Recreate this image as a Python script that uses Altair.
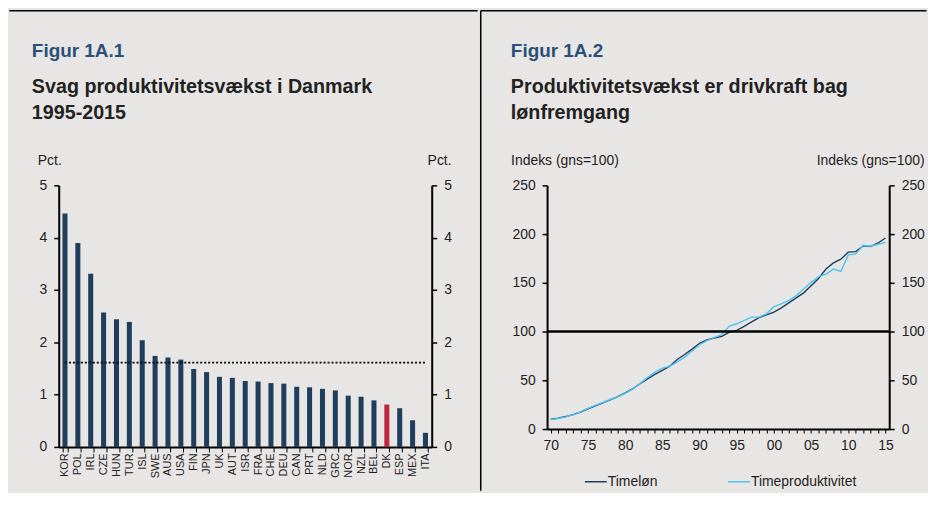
import altair as alt
import pandas as pd

# ---------------- data: figure 1A.1 ----------------
countries = ["KOR", "POL", "IRL", "CZE", "HUN", "TUR", "ISL", "SWE", "AUS", "USA",
             "FIN", "JPN", "UK", "AUT", "ISR", "FRA", "CHE", "DEU", "CAN", "PRT",
             "NLD", "GRC", "NOR", "NZL", "BEL", "DK", "ESP", "MEX", "ITA"]
growth = [4.46, 3.90, 3.31, 2.57, 2.44, 2.39, 2.04, 1.74, 1.71, 1.67,
          1.49, 1.43, 1.34, 1.32, 1.26, 1.25, 1.22, 1.21, 1.15, 1.14,
          1.11, 1.08, 0.98, 0.96, 0.89, 0.81, 0.74, 0.51, 0.27]
oecd_avg = 1.61
title1 = "Figur 1A.1"
subtitle1 = ["Svag produktivitetsvækst i Danmark", "1995-2015"]

# ---------------- data: figure 1A.2 ----------------
years = list(range(1970, 2016))
timeloen = [10.0, 11.2, 12.8, 14.8, 17.3, 20.8, 23.8, 26.8, 30.0, 33.3,
            37.0, 41.3, 46.5, 51.5, 56.0, 60.2, 64.5, 71.3, 76.5, 82.0,
            88.0, 91.5, 93.4, 95.1, 99.5, 101.2, 105.3, 110.0, 114.2, 117.2,
            119.9, 124.3, 129.4, 134.5, 139.7, 147.1, 154.5, 164.1, 170.5, 174.3,
            181.5, 182.0, 187.9, 187.2, 190.9, 196.0]
timeprod = [9.6, 10.8, 12.5, 14.8, 17.6, 21.2, 24.3, 27.2, 30.3, 33.2,
            36.5, 41.0, 46.8, 52.8, 58.3, 62.5, 64.3, 68.8, 73.8, 80.0,
            86.5, 90.8, 93.7, 97.1, 105.6, 108.0, 111.4, 114.8, 114.8, 118.2,
            125.5, 128.4, 131.8, 136.9, 143.7, 150.5, 156.3, 159.0, 164.1, 161.7,
            178.7, 179.7, 188.6, 187.6, 189.6, 191.5]
series_names = ["Timeløn", "Timeproduktivitet"]
base_level = 100
title2 = "Figur 1A.2"
subtitle2 = ["Produktivitetsvækst er drivkraft bag", "lønfremgang"]

NAVY = "#1f3d5c"
RED = "#c0253f"
CYAN = "#4cc3f0"
BG = "#e8e6e4"
TXT = "#222222"
BLUE_T = "#2b5078"
FONT = "Liberation Sans"

bars_df = pd.DataFrame({"land": countries, "vaekst": growth,
                        "gruppe": ["DK" if c == "DK" else "Andre" for c in countries]})
avg_df = pd.DataFrame({"fra": [countries[0]], "til": [countries[-1]], "gns": [oecd_avg]})
lines_df = pd.DataFrame({
    "aar": years * 2,
    "indeks": timeloen + timeprod,
    "serie": [series_names[0]] * len(years) + [series_names[1]] * len(years),
})
base_df = pd.DataFrame({"niveau": [base_level]})
one = pd.DataFrame({"k": [0]})


def yaxis(orient, title, tx, talign, values):
    return alt.Axis(orient=orient, values=values, title=title, titleAngle=0,
                    titleAlign=talign, titleBaseline="middle", titleX=tx, titleY=-24.5,
                    titleFontWeight="normal", titleFontSize=14, titleColor=TXT, titleFont=FONT,
                    grid=False, domainColor="black", domainWidth=2, tickColor="black",
                    tickSize=5, tickWidth=1.5, labelFontSize=14, labelPadding=7,
                    labelColor=TXT, labelFont=FONT)


def title_layers(head, sub, dx):
    t = alt.Chart(one).mark_text(align="left", baseline="alphabetic", font=FONT,
                                 fontSize=19, fontWeight="bold", color=BLUE_T).encode(
        x=alt.value(dx), y=alt.value(-128.7), text=alt.value(head))
    s1 = alt.Chart(one).mark_text(align="left", baseline="alphabetic", font=FONT,
                                  fontSize=19.8, fontWeight="bold", color=TXT).encode(
        x=alt.value(dx), y=alt.value(-93.3), text=alt.value(sub[0]))
    s2 = alt.Chart(one).mark_text(align="left", baseline="alphabetic", font=FONT,
                                  fontSize=19.8, fontWeight="bold", color=TXT).encode(
        x=alt.value(dx), y=alt.value(-66.7), text=alt.value(sub[1]))
    return [t, s1, s2]


# ---------------- left panel ----------------
W1, H1 = 375, 263
xscale = alt.Scale(domain=countries, paddingInner=0.61, paddingOuter=0.29)
xband = alt.X("land:N", scale=xscale,
              axis=alt.Axis(title=None, labelAngle=-90, labelFontSize=11, labelFont=FONT,
                            labelColor=TXT, labelPadding=1, tickBand="extent", tickSize=5,
                            tickColor="black", tickWidth=1, domainColor="black",
                            domainWidth=2, labelOverlap=False))
bars = alt.Chart(bars_df).mark_bar().encode(
    x=xband,
    y=alt.Y("vaekst:Q", scale=alt.Scale(domain=[0, 5]),
            axis=yaxis("left", "Pct.", -21.5, "left", [0, 1, 2, 3, 4, 5])),
    color=alt.Color("gruppe:N", scale=alt.Scale(domain=["Andre", "DK"], range=[NAVY, RED]),
                    legend=None),
)
avg_rule = alt.Chart(avg_df).mark_rule(color="black", strokeDash=[2, 2], strokeWidth=1.8).encode(
    x=alt.X("fra:N", scale=xscale),
    x2="til:N",
    y=alt.Y("gns:Q", scale=alt.Scale(domain=[0, 5]),
            axis=yaxis("right", "Pct.", 19.5, "right", [0, 1, 2, 3, 4, 5])),
)
top1 = alt.Chart(one).mark_rule(color="black", strokeWidth=1.5).encode(
    x=alt.value(-49.7), x2=alt.value(421.3), y=alt.value(-175.5))

left = alt.layer(bars, avg_rule, top1, *title_layers(title1, subtitle1, -27)).resolve_scale(
    y="independent").properties(width=W1, height=H1)

# ---------------- right panel ----------------
W2, H2 = 344, 245
xyear = alt.X("aar:Q", scale=alt.Scale(domain=[1969.5, 2015.5], nice=False, zero=False),
              axis=alt.Axis(title=None, values=years,
                            labelExpr="datum.value % 5 == 0 ? substring(toString(datum.value), 2, 4) : ''",
                            labelOverlap=False, labelFlush=False, labelFontSize=14,
                            labelFont=FONT, labelColor=TXT, labelPadding=6, tickSize=4,
                            tickColor="black", tickWidth=1, domainColor="black",
                            domainWidth=2, grid=False))
lines = alt.Chart(lines_df).mark_line(strokeWidth=1.4).encode(
    x=xyear,
    y=alt.Y("indeks:Q", scale=alt.Scale(domain=[0, 250]),
            axis=yaxis("left", "Indeks (gns=100)", -36.7, "left", [0, 50, 100, 150, 200, 250])),
    color=alt.Color("serie:N",
                    scale=alt.Scale(domain=series_names, range=[NAVY, CYAN]),
                    legend=alt.Legend(title=None, orient="none", legendX=37, legendY=286,
                                      direction="horizontal", symbolType="stroke",
                                      symbolSize=484, symbolStrokeWidth=1.5,
                                      labelFontSize=14, labelFont=FONT, labelColor=TXT,
                                      labelOffset=0, columnPadding=67, padding=0)),
)
base_rule = alt.Chart(base_df).mark_rule(color="black", strokeWidth=2.5).encode(
    y=alt.Y("niveau:Q", scale=alt.Scale(domain=[0, 250]),
            axis=yaxis("right", "Indeks (gns=100)", 35, "right", [0, 50, 100, 150, 200, 250])),
)
divider = alt.Chart(one).mark_rule(color="black", strokeWidth=1.5).encode(
    x=alt.value(-66.7), y=alt.value(-175.5), y2=alt.value(307.0))
top2 = alt.Chart(one).mark_rule(color="black", strokeWidth=1.5).encode(
    x=alt.value(-66.7), x2=alt.value(381.5), y=alt.value(-175.5))

right = alt.layer(lines, base_rule, divider, top2, *title_layers(title2, subtitle2, -36.4)).resolve_scale(
    y="independent").properties(width=W2, height=H2)

chart = alt.hconcat(left, right, spacing=0).resolve_scale(
    color="independent"
).properties(
    padding=0, background=BG
).configure_view(stroke=None)

chart.save("out.html", embed_options={"renderer": "svg", "actions": False})
